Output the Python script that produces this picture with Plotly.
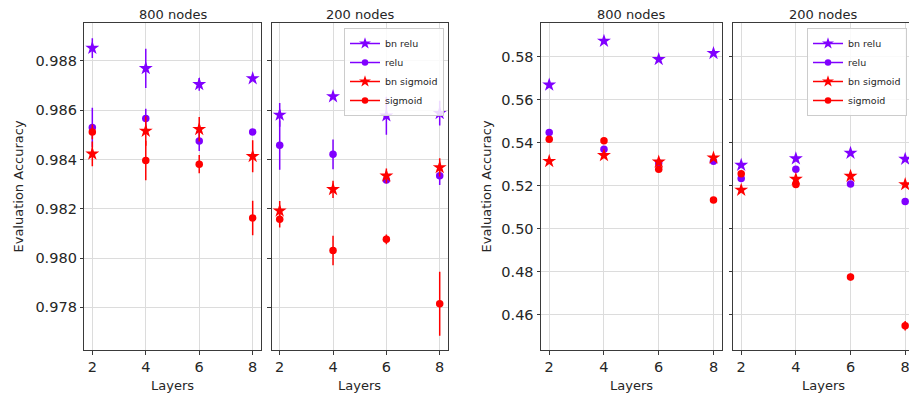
import plotly.graph_objects as go

# ---------------- data ----------------
layers = [2, 4, 6, 8]
series_names = ["bn relu", "relu", "bn sigmoid", "sigmoid"]
series_colors = ["#8000ff", "#8000ff", "#ff0000", "#ff0000"]
series_symbols = ["star", "circle", "star", "circle"]

# left pair (dataset A), 800 nodes
a800_bn_relu = [0.98852, 0.98770, 0.98705, 0.98729]
a800_bn_relu_err = [0.0004, 0.0008, 0.00026, 0.0001]
a800_relu = [0.98530, 0.98566, 0.98475, 0.98512]
a800_relu_err = [0.0008, 0.0004, 0.0004, 0.0001]
a800_bn_sigmoid = [0.98423, 0.98516, 0.98523, 0.98413]
a800_bn_sigmoid_err = [0.0005, 0.0006, 0.0005, 0.00065]
a800_sigmoid = [0.98512, 0.98396, 0.98381, 0.98163]
a800_sigmoid_err = [0.0003, 0.0008, 0.00037, 0.0007]

# left pair (dataset A), 200 nodes
a200_bn_relu = [0.98581, 0.98656, 0.98578, 0.98588]
a200_bn_relu_err = [0.00048, 0.0001, 0.00077, 0.0005]
a200_relu = [0.98458, 0.98421, 0.98317, 0.98334]
a200_relu_err = [0.001, 0.0006, 0.0001, 0.00037]
a200_bn_sigmoid = [0.98192, 0.98279, 0.98334, 0.98368]
a200_bn_sigmoid_err = [0.0004, 0.00035, 0.0003, 0.00037]
a200_sigmoid = [0.98158, 0.98031, 0.98076, 0.97815]
a200_sigmoid_err = [0.00034, 0.0006, 0.0002, 0.0013]

# right pair (dataset B), 800 nodes
b800_bn_relu = [0.5669, 0.5873, 0.5788, 0.5816]
b800_bn_relu_err = [0.0005, 0.0005, 0.0005, 0.0005]
b800_relu = [0.5447, 0.5369, 0.5306, 0.5314]
b800_relu_err = [0.0005, 0.0005, 0.0005, 0.0005]
b800_bn_sigmoid = [0.5314, 0.5341, 0.5311, 0.5330]
b800_bn_sigmoid_err = [0.0007, 0.0012, 0.001, 0.001]
b800_sigmoid = [0.5416, 0.5409, 0.5277, 0.5133]
b800_sigmoid_err = [0.0005, 0.0005, 0.0005, 0.0005]

# right pair (dataset B), 200 nodes
b200_bn_relu = [0.5296, 0.5326, 0.5352, 0.5324]
b200_bn_relu_err = [0.0006, 0.0005, 0.0008, 0.0008]
b200_relu = [0.5234, 0.5276, 0.5208, 0.5127]
b200_relu_err = [0.0005, 0.0005, 0.0005, 0.0005]
b200_bn_sigmoid = [0.5180, 0.5231, 0.5245, 0.5206]
b200_bn_sigmoid_err = [0.0008, 0.0015, 0.0018, 0.0012]
b200_sigmoid = [0.5256, 0.5206, 0.4775, 0.4549]
b200_sigmoid_err = [0.0006, 0.0008, 0.0016, 0.0022]

panel_titles = ["800 nodes", "200 nodes", "800 nodes", "200 nodes"]
x_title = "Layers"
y_title = "Evaluation Accuracy"

panels = [
    [(a800_bn_relu, a800_bn_relu_err), (a800_relu, a800_relu_err),
     (a800_bn_sigmoid, a800_bn_sigmoid_err), (a800_sigmoid, a800_sigmoid_err)],
    [(a200_bn_relu, a200_bn_relu_err), (a200_relu, a200_relu_err),
     (a200_bn_sigmoid, a200_bn_sigmoid_err), (a200_sigmoid, a200_sigmoid_err)],
    [(b800_bn_relu, b800_bn_relu_err), (b800_relu, b800_relu_err),
     (b800_bn_sigmoid, b800_bn_sigmoid_err), (b800_sigmoid, b800_sigmoid_err)],
    [(b200_bn_relu, b200_bn_relu_err), (b200_relu, b200_relu_err),
     (b200_bn_sigmoid, b200_bn_sigmoid_err), (b200_sigmoid, b200_sigmoid_err)],
]

# ---------------- layout geometry (pixels) ----------------
W, H = 909, 398
FONT = "DejaVu Sans"
TXT = "#262626"
x_px = [(84.3, 260.7), (271.7, 447.7), (541.0, 721.7), (733.0, 909.0)]
x_ranges = [[1.7, 8.3], [1.7, 8.3], [1.7, 8.3], [1.7, 8.14]]
y_top, y_bot = 23.0, 350.0
y_dom = [1 - y_bot / H, 1 - y_top / H]
y_ranges = [[0.97627, 0.98954], [0.97627, 0.98954], [0.44358, 0.59567], [0.44358, 0.59567]]
y_ticks = [[0.978, 0.980, 0.982, 0.984, 0.986, 0.988],
           [0.978, 0.980, 0.982, 0.984, 0.986, 0.988],
           [0.46, 0.48, 0.50, 0.52, 0.54, 0.56, 0.58],
           [0.46, 0.48, 0.50, 0.52, 0.54, 0.56, 0.58]]
y_fmt = [".3f", ".3f", ".2f", ".2f"]

fig = go.Figure()

for p, series in enumerate(panels):
    xa = "x" if p == 0 else f"x{p+1}"
    ya = "y" if p == 0 else f"y{p+1}"
    for s, (vals, errs) in enumerate(series):
        sym = series_symbols[s]
        fig.add_trace(go.Scatter(
            x=layers, y=vals, xaxis=xa, yaxis=ya, mode="markers",
            marker=dict(symbol=sym, color=series_colors[s],
                        size=10.5 if sym == "star" else 7.5, line=dict(width=0)),
            error_y=dict(type="data", array=errs, visible=True,
                         color=series_colors[s], thickness=1.5, width=0),
            showlegend=False, hoverinfo="x+y",
        ))

# legend-only entries (panel 2 and panel 4)
for lg in ["legend", "legend2"]:
    for s, name in enumerate(series_names):
        sym = series_symbols[s]
        fig.add_trace(go.Scatter(
            x=[None], y=[None], name=name, legend=lg,
            mode="lines+markers",
            line=dict(color=series_colors[s], width=1.5),
            marker=dict(symbol=sym, color=series_colors[s],
                        size=9 if sym == "star" else 6.5, line=dict(width=0)),
            xaxis="x2" if lg == "legend" else "x4",
            yaxis="y2" if lg == "legend" else "y4",
        ))

axis_common = dict(showline=True, linecolor="#3a3a3a", linewidth=1,
                   showgrid=True, gridcolor="#dcdcdc", gridwidth=1,
                   zeroline=False, ticks="outside", ticklen=3.5,
                   tickcolor="#3a3a3a", tickwidth=1, automargin=False,
                   ticklabeloverflow="allow",
                   tickfont=dict(family=FONT, size=14.5, color=TXT))

layout = dict(
    width=W, height=H,
    margin=dict(l=0, r=0, t=0, b=0, autoexpand=False),
    paper_bgcolor="white", plot_bgcolor="white",
    font=dict(family=FONT, color=TXT),
)

annotations = []
for p in range(4):
    xk = "xaxis" if p == 0 else f"xaxis{p+1}"
    yk = "yaxis" if p == 0 else f"yaxis{p+1}"
    ya = "y" if p == 0 else f"y{p+1}"
    xa = "x" if p == 0 else f"x{p+1}"
    x0, x1 = x_px[p]
    layout[xk] = dict(axis_common, domain=[x0 / W, min(x1 / W, 1.0)],
                      anchor=ya, range=x_ranges[p], tickvals=layers,
                      mirror=True)
    layout[yk] = dict(axis_common, domain=y_dom, anchor=xa,
                      range=y_ranges[p], tickvals=y_ticks[p],
                      tickformat=y_fmt[p],
                      showticklabels=(p % 2 == 0),
                      mirror=(p != 3))
    xc = (x0 + (x1 if p != 3 else 913.0)) / 2
    annotations.append(dict(text=panel_titles[p], x=xc / W, y=1 - 14 / H,
                            xref="paper", yref="paper", showarrow=False,
                            xanchor="center", yanchor="middle",
                            font=dict(family=FONT, size=13, color=TXT)))
    annotations.append(dict(text=x_title, x=xc / W, y=1 - 385 / H,
                            xref="paper", yref="paper", showarrow=False,
                            xanchor="center", yanchor="middle",
                            font=dict(family=FONT, size=13, color=TXT)))

for xc in [18.0, 486.0]:
    annotations.append(dict(text=y_title, x=xc / W, y=1 - 186.5 / H,
                            xref="paper", yref="paper", showarrow=False,
                            textangle=-90, xanchor="center", yanchor="middle",
                            font=dict(family=FONT, size=13, color=TXT)))

legend_common = dict(xanchor="right", yanchor="top",
                     bgcolor="rgba(255,255,255,0.85)", bordercolor="#cccccc",
                     borderwidth=1, itemwidth=30,
                     font=dict(family=FONT, size=9.5, color=TXT),
                     tracegroupgap=0)
layout["legend"] = dict(legend_common, x=444 / W, y=1 - 28 / H)
layout["legend2"] = dict(legend_common, x=907 / W, y=1 - 28 / H)
layout["annotations"] = annotations

fig.update_layout(**layout)
fig.write_html(
    "out.html",
    config={"displayModeBar": False},
    post_script="document.body.style.margin='0';document.body.style.padding='0';"
                "document.body.style.overflow='hidden';"
)
